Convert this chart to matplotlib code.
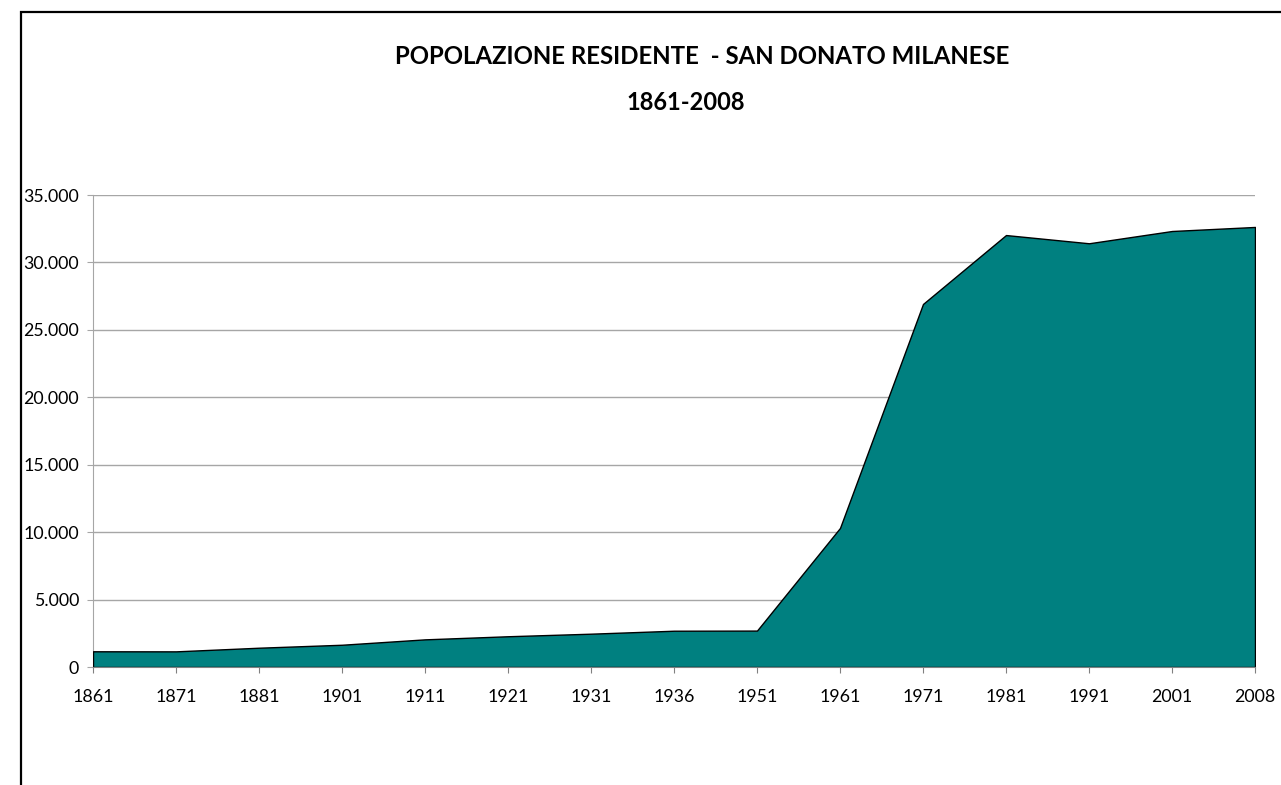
import matplotlib.pyplot as plt
import numpy as np
from matplotlib.patches import Rectangle
from matplotlib.ticker import FuncFormatter

years = ["1861", "1871", "1881", "1901", "1911", "1921", "1931", "1936",
         "1951", "1961", "1971", "1981", "1991", "2001", "2008"]
population = [1165, 1160, 1430, 1650, 2050, 2280, 2470, 2690,
              2700, 10310, 26920, 32030, 31420, 32330, 32630]

plt.rcParams["font.family"] = ["Lato", "DejaVu Sans"]

figure = plt.figure(figsize=(12.81, 7.85), dpi=100)
axis = figure.add_axes([93 / 1281, 118 / 785, 1162 / 1281, 472 / 785])

positions = np.arange(len(years))
axis.fill_between(positions, population, 0, facecolor="#008080",
                  edgecolor="black", linewidth=1.0, zorder=3)

axis.set_xlim(0, len(years) - 1)
axis.set_ylim(0, 35000)
axis.set_yticks(np.arange(0, 35001, 5000))
axis.yaxis.set_major_formatter(
    FuncFormatter(lambda v, _: f"{int(v):,}".replace(",", ".")))
axis.set_xticks(positions)
axis.set_xticklabels(years)

axis.grid(axis="y", color="#a6a6a6", linewidth=1.0, zorder=0)
axis.set_axisbelow(True)
for side in ("top", "right"):
    axis.spines[side].set_visible(False)
axis.spines["left"].set_color("#a6a6a6")
axis.spines["bottom"].set_color("#808080")
axis.spines["bottom"].set_zorder(4)
axis.tick_params(axis="x", length=4, color="#808080", pad=12, labelsize=12.8)
axis.tick_params(axis="y", length=4, color="#a6a6a6", pad=6, labelsize=12.8)

figure.text(702 / 1281, 1 - 56 / 785, "POPOLAZIONE RESIDENTE  - SAN DONATO MILANESE",
            ha="center", va="center", fontsize=17.3, fontweight="bold")
figure.text(686 / 1281, 1 - 103 / 785, "1861-2008",
            ha="center", va="center", fontsize=17, fontweight="bold")

figure.patches.append(Rectangle((21 / 1281, -0.1), 1.2, 1.1 - 12 / 785,
                                transform=figure.transFigure, fill=False,
                                edgecolor="black", linewidth=1.6))

figure.savefig("out.png", dpi=100)
plt.close(figure)
